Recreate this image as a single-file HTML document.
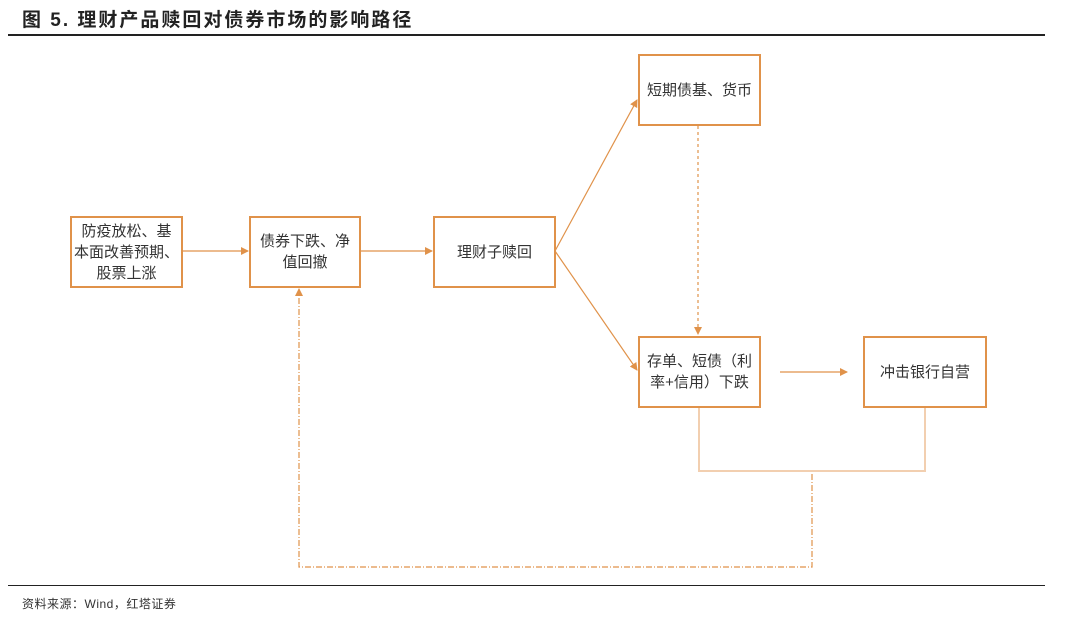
<!DOCTYPE html>
<html><head><meta charset="utf-8"><style>
body{margin:0;width:1080px;height:618px;background:#fff;font-family:"Liberation Sans","Noto Sans CJK SC",sans-serif;position:relative;overflow:hidden}
.t{position:absolute;left:22px;top:5px;font-size:19px;font-weight:bold;color:#222;letter-spacing:2px}
.b{position:absolute;border:2px solid #e0924a;box-sizing:border-box;display:flex;align-items:center;justify-content:center;text-align:center;font-size:15px;color:#333;line-height:21px;background:#fff}
.s{position:absolute;left:22px;top:595px;font-size:12px;color:#333;letter-spacing:0.5px}
</style></head><body>
<div class="t">图 5. 理财产品赎回对债券市场的影响路径</div>
<div style="position:absolute;left:8px;top:34px;width:1037px;height:2px;background:#222"></div>
<div style="position:absolute;left:8px;top:585px;width:1037px;height:1px;background:#222"></div>
<div class="s">资料来源：Wind，红塔证券</div>
<svg width="1080" height="618" style="position:absolute;left:0;top:0">
<defs><marker id="a" markerWidth="8" markerHeight="8" refX="7" refY="4" orient="auto" markerUnits="userSpaceOnUse"><path d="M0,0 L8,4 L0,8z" fill="#e0924a"/></marker></defs>
<g stroke="#e0924a" stroke-width="1.2" fill="none">
<line x1="182" y1="251" x2="248" y2="251" marker-end="url(#a)"/>
<line x1="360" y1="251" x2="432" y2="251" marker-end="url(#a)"/>
<line x1="555" y1="251" x2="637" y2="100" marker-end="url(#a)"/>
<line x1="555" y1="251" x2="637" y2="370" marker-end="url(#a)"/>
<line x1="698" y1="126" x2="698" y2="334" stroke-dasharray="3,3" marker-end="url(#a)"/>
<line x1="780" y1="372" x2="847" y2="372" marker-end="url(#a)"/>
<path d="M812,474 V567 H299 V289" stroke-dasharray="6,2,1,2" marker-end="url(#a)"/>
</g>
<path d="M699,407 V471 H925 V407" stroke="#f2cfb0" stroke-width="2" fill="none"/>
</svg>
<div class="b" style="left:70px;top:216px;width:113px;height:72px">防疫放松、基<br>本面改善预期、<br>股票上涨</div>
<div class="b" style="left:249px;top:216px;width:112px;height:72px">债券下跌、净<br>值回撤</div>
<div class="b" style="left:433px;top:216px;width:123px;height:72px">理财子赎回</div>
<div class="b" style="left:638px;top:54px;width:123px;height:72px">短期债基、货币</div>
<div class="b" style="left:638px;top:336px;width:123px;height:72px">存单、短债（利<br>率+信用）下跌</div>
<div class="b" style="left:863px;top:336px;width:124px;height:72px">冲击银行自营</div>
</body></html>
